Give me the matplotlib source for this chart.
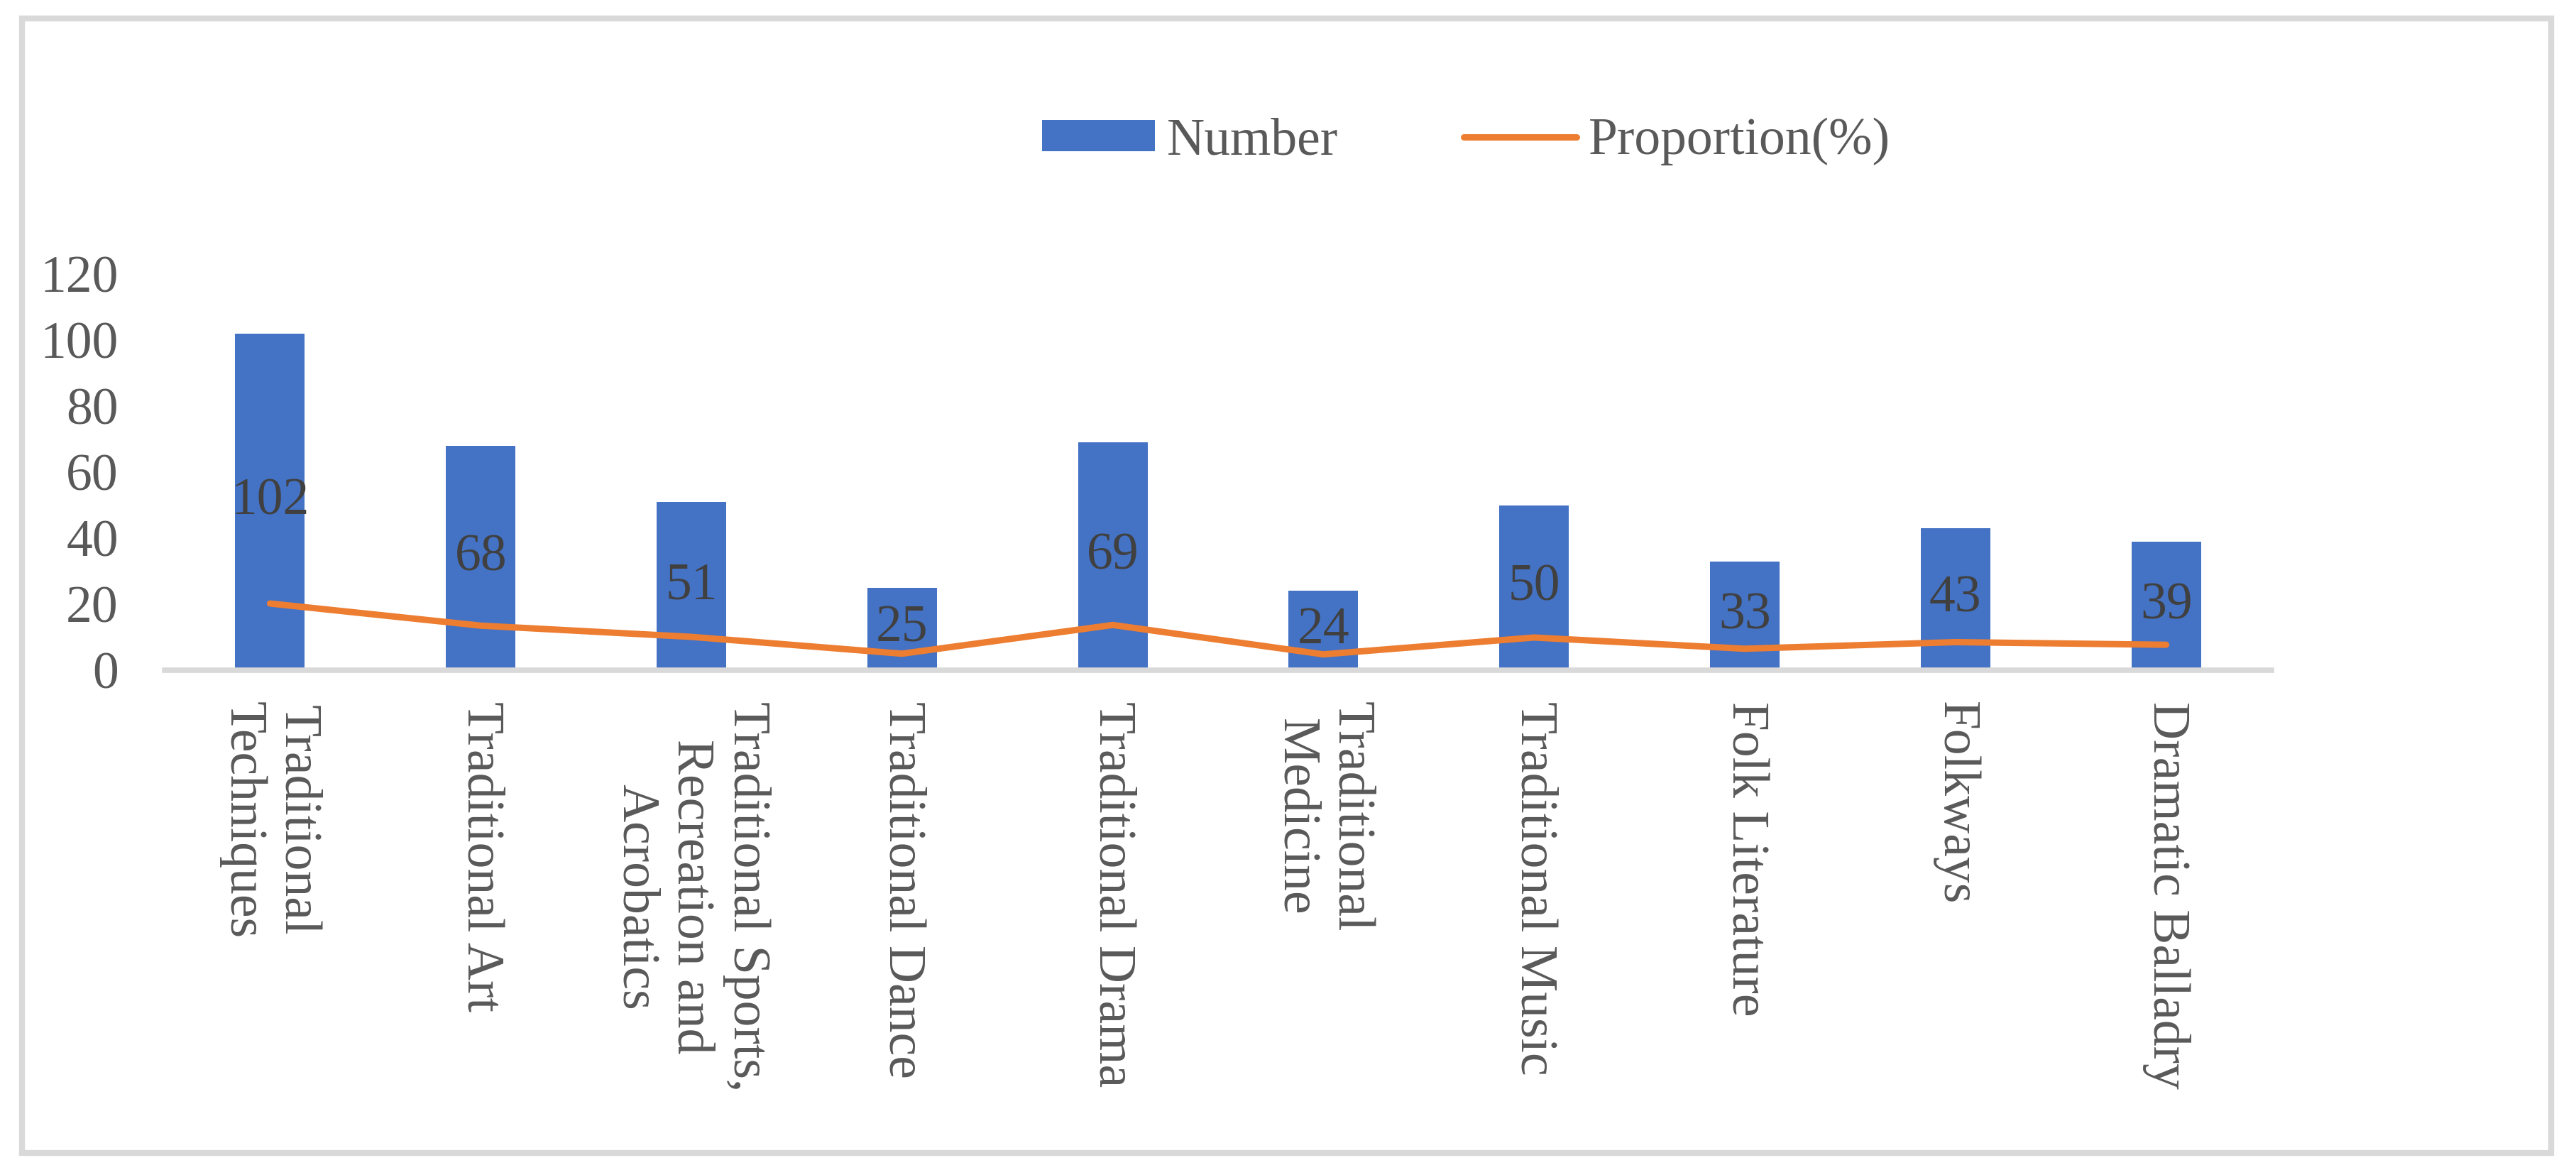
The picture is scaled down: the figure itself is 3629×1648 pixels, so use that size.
import matplotlib
matplotlib.use("Agg")
import matplotlib.pyplot as plt
from matplotlib.patches import Rectangle

categories = [
    "Traditional\nTechniques",
    "Traditional Art",
    "Traditional Sports,\nRecreation and\nAcrobatics",
    "Traditional Dance",
    "Traditional Drama",
    "Traditional\nMedicine",
    "Traditional Music",
    "Folk Literature",
    "Folkways",
    "Dramatic Balladry",
]
numbers = [102, 68, 51, 25, 69, 24, 50, 33, 43, 39]
proportions = [20.2, 13.5, 10.1, 5.0, 13.7, 4.8, 9.9, 6.5, 8.5, 7.7]
yticks = [0, 20, 40, 60, 80, 100, 120]

W, H = 3630, 1648
DPI = 100
plt.rcParams['font.family'] = ['Liberation Serif', 'DejaVu Serif']
FS = 53

fig = plt.figure(figsize=(W / DPI, H / DPI), dpi=DPI)
fig.patch.set_facecolor('white')

ax_l, ax_r, ax_b, ax_t = 232, 3200, 944, 386
ax = fig.add_axes([ax_l / W, 1 - ax_b / H, (ax_r - ax_l) / W, (ax_b - ax_t) / H])

x = list(range(len(categories)))
bars = ax.bar(x, numbers, width=0.33, color='#4472C4', zorder=2, label='Number')
line, = ax.plot(x, proportions, color='#ED7D31', linewidth=6.5, zorder=3,
                solid_capstyle='round', solid_joinstyle='round', label='Proportion(%)')

for xi, v in zip(x, numbers):
    ax.text(xi, v / 2, str(v), ha='center', va='center', fontsize=FS,
            color='#404040', zorder=4)

ax.set_xlim(-0.5, len(categories) - 0.5)
ax.set_ylim(0, 120)
ax.set_yticks(yticks)
ax.set_yticklabels([str(t) for t in yticks], fontsize=FS, color='#595959')
ax.set_xticks(x)
ax.set_xticklabels(categories, fontsize=FS, color='#595959', rotation=270,
                   ha='center', va='top', multialignment='center')
ax.tick_params(axis='y', length=0, pad=47)
ax.tick_params(axis='x', length=0, pad=32)

for s in ['top', 'right', 'left']:
    ax.spines[s].set_visible(False)
ax.spines['bottom'].set_color('#D9D9D9')
ax.spines['bottom'].set_linewidth(5.5)
ax.spines['bottom'].set_zorder(5)

leg = fig.legend([bars, line], ['Number', 'Proportion(%)'], loc='center',
                 bbox_to_anchor=(0.569, 0.879), ncol=2,
                 frameon=False, fontsize=FS, handlelength=2.16,
                 handleheight=0.55, handletextpad=0.23, columnspacing=2.4,
                 borderpad=0)
for t in leg.get_texts():
    t.set_color('#595959')

fig.patches.append(Rectangle((31 / W, 1 - 1624 / H), (3594 - 31) / W, (1624 - 26) / H,
                             transform=fig.transFigure, fill=False,
                             edgecolor='#D9D9D9', linewidth=6))

fig.savefig('out.png', dpi=DPI, facecolor='white')
